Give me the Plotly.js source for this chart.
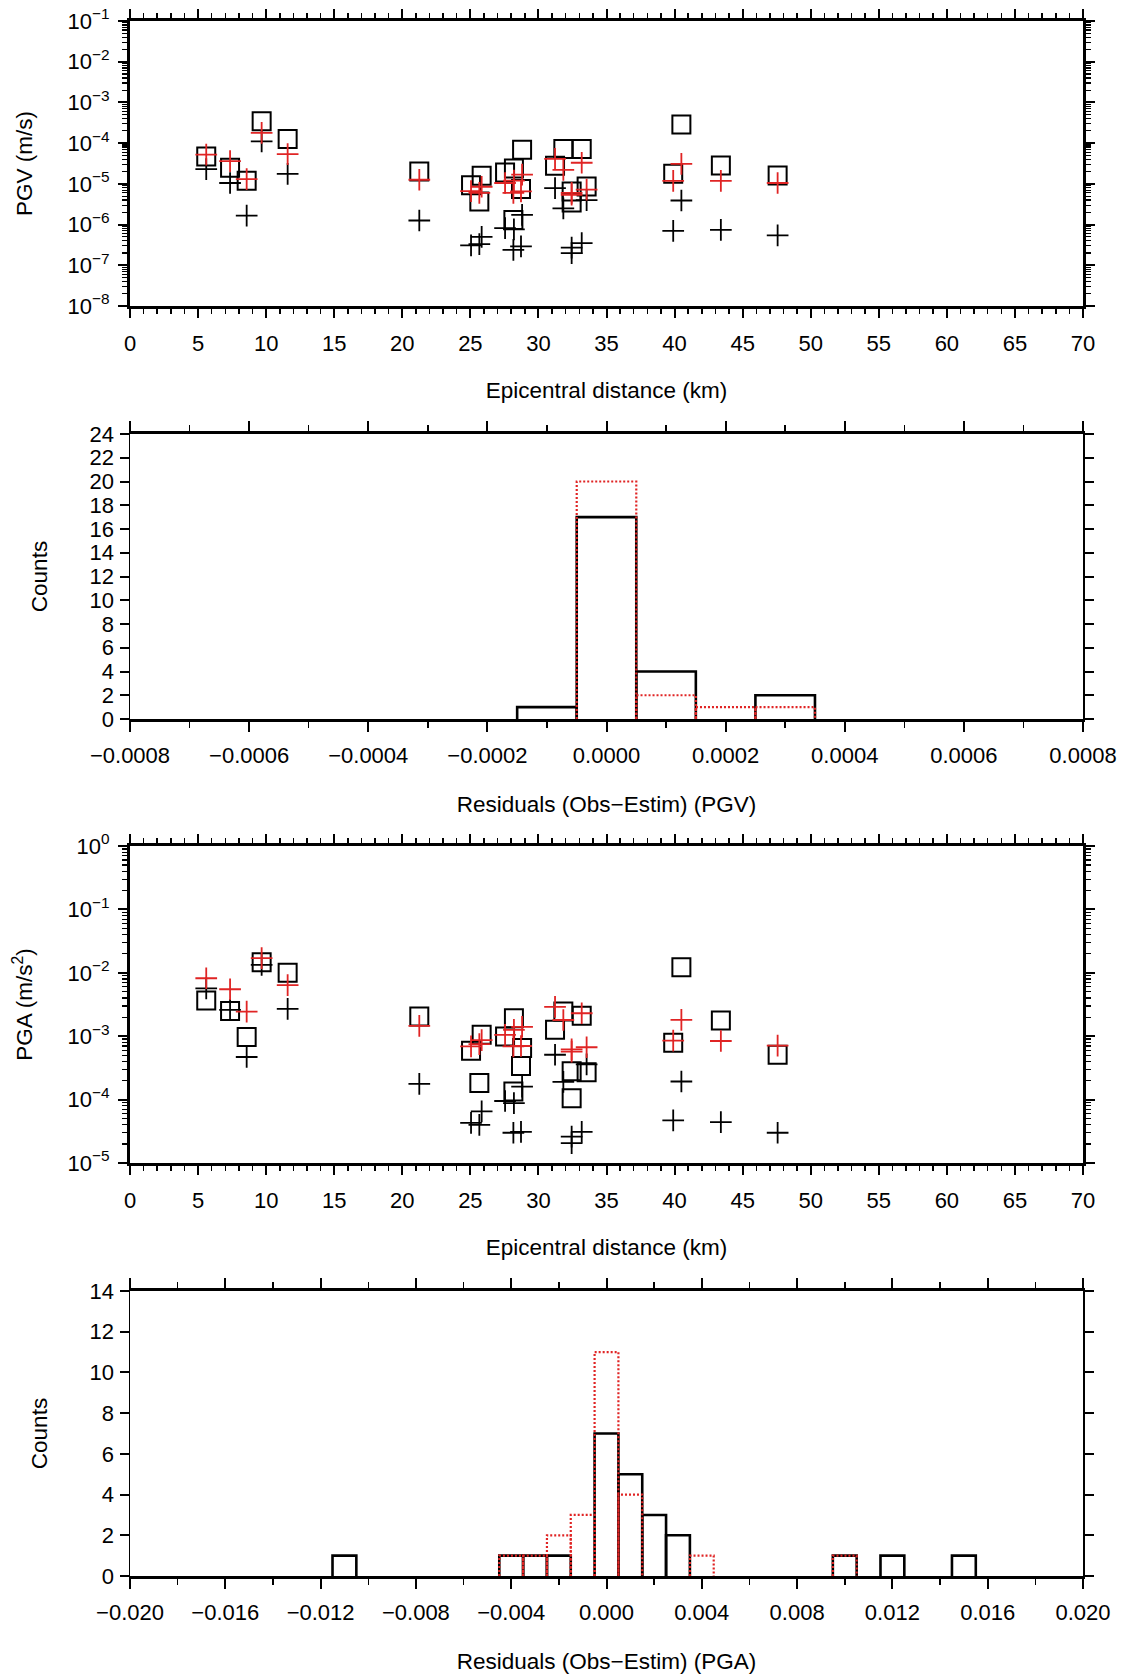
<!DOCTYPE html>
<html>
<head>
<meta charset="utf-8">
<script src="https://cdn.plot.ly/plotly-3.0.1.min.js"></script>
<style>html,body{margin:0;padding:0;background:#fff;}#chart{width:1126px;height:1674px;}</style>
</head>
<body>
<div id="chart"></div>
<script>
// ---------- data ----------
const distanceKm = [5.6, 7.35, 8.57, 9.67, 11.58, 21.25, 25.05, 25.83, 25.66, 27.55, 28.2, 28.8, 28.72, 28.16, 31.22, 31.83, 33.18, 32.44, 33.54, 32.44, 39.9, 40.5, 43.4, 47.57];

const pgvObserved = [4.7e-5, 2.5e-5, 1.2e-5, 3.45e-4, 1.27e-4, 2.0e-5, 9.2e-6, 1.58e-5, 3.7e-6, 1.91e-5, 2.4e-5, 6.9e-5, 7.5e-6, 1.3e-6, 2.8e-5, 7.2e-5, 7.2e-5, 6.5e-6, 8.6e-6, 3.5e-6, 1.78e-5, 2.86e-4, 2.84e-5, 1.61e-5];
const pgvEstimBlack = [2.3e-5, 1.05e-5, 1.65e-6, 1.1e-4, 1.75e-5, 1.26e-6, 3.1e-7, 5.0e-7, 3.3e-7, 8.2e-7, 7.6e-7, 1.74e-6, 2.9e-7, 2.4e-7, 7.9e-6, 2.5e-6, 3.5e-7, 2.7e-7, 4.0e-6, 2.0e-7, 7.0e-7, 3.9e-6, 7.4e-7, 5.4e-7];
const pgvEstimRed = [5.2e-5, 3.6e-5, 1.3e-5, 1.78e-4, 5.4e-5, 1.26e-5, 6.6e-6, 8.5e-6, 6.0e-6, 1.05e-5, 1.2e-5, 1.68e-5, 6.5e-6, 6.0e-6, 4.1e-5, 2.2e-5, 3.3e-5, 5.4e-6, 7.2e-6, 6.0e-6, 1.19e-5, 3.1e-5, 1.19e-5, 1.05e-5];

const pgaObserved = [3.65e-3, 2.5e-3, 9.7e-4, 1.47e-2, 1.0e-2, 2.04e-3, 5.9e-4, 1.05e-3, 1.82e-4, 9.9e-4, 1.92e-3, 6.5e-4, 3.4e-4, 1.34e-4, 1.26e-3, 2.45e-3, 2.1e-3, 2.8e-4, 2.7e-4, 1.05e-4, 7.9e-4, 1.22e-2, 1.77e-3, 5.1e-4];
const pgaEstimBlack = [5.7e-3, 2.6e-3, 4.7e-4, 1.33e-2, 2.7e-3, 1.77e-4, 4.3e-5, 6.5e-5, 4.0e-5, 9.5e-5, 8.8e-5, 1.6e-4, 3.1e-5, 3.0e-5, 5.1e-4, 1.9e-4, 3.1e-5, 2.6e-5, 3.6e-4, 2.06e-5, 4.7e-5, 1.93e-4, 4.4e-5, 3.0e-5];
const pgaEstimRed = [8.2e-3, 5.5e-3, 2.45e-3, 1.7e-2, 6.4e-3, 1.46e-3, 6.9e-4, 8.7e-4, 7.5e-4, 1.05e-3, 1.26e-3, 1.4e-3, 7.0e-4, 6.9e-4, 2.9e-3, 1.8e-3, 2.3e-3, 5.7e-4, 6.7e-4, 6.2e-4, 8.5e-4, 1.81e-3, 8.4e-4, 7.1e-4];

const pgvBinCenters = [-0.0001, 0.0, 0.0001, 0.0002, 0.0003];
const pgvCountsBlack = [1, 17, 4, 0, 2];
const pgvCountsRed = [0, 20, 2, 1, 1];
const pgvBinWidth = 0.0001;

const pgaBinCenters = [-0.011, -0.004, -0.003, -0.002, -0.001, 0.0, 0.001, 0.002, 0.003, 0.004, 0.010, 0.012, 0.015];
const pgaCountsBlack = [1, 1, 1, 1, 0, 7, 5, 3, 2, 0, 1, 1, 1];
const pgaCountsRed = [0, 1, 1, 2, 3, 11, 4, 0, 0, 1, 1, 0, 0];
const pgaBinWidth = 0.001;

const pgvTickVals = [1e-8, 1e-7, 1e-6, 1e-5, 1e-4, 1e-3, 1e-2, 1e-1];
const pgvTickText = ['10<sup>−8</sup>', '10<sup>−7</sup>', '10<sup>−6</sup>', '10<sup>−5</sup>', '10<sup>−4</sup>', '10<sup>−3</sup>', '10<sup>−2</sup>', '10<sup>−1</sup>'];
const pgaTickVals = [1e-5, 1e-4, 1e-3, 1e-2, 1e-1, 1];
const pgaTickText = ['10<sup>−5</sup>', '10<sup>−4</sup>', '10<sup>−3</sup>', '10<sup>−2</sup>', '10<sup>−1</sup>', '10<sup>0</sup>'];

// ---------- styling ----------
const FONT = 'Liberation Sans, Arial, Helvetica, sans-serif';
const RED = 'rgb(224,36,36)';
const W = 1126, H = 1674;
const xDom = [130 / W, 1083 / W];
function yDom(top, bottom) { return [1 - bottom / H, 1 - top / H]; }

function minorLog(lo, hi) {
  const v = [];
  for (let d = lo; d < hi; d++) for (let k = 2; k <= 9; k++) v.push(k * Math.pow(10, d));
  return v;
}

function outline(centers, counts, width) {
  const xs = [], ys = [];
  centers.forEach((c, i) => {
    if (counts[i] > 0) {
      const a = c - width / 2, b = c + width / 2;
      xs.push(a, a, b, b, null);
      ys.push(0, counts[i], counts[i], 0, null);
    }
  });
  return {x: xs, y: ys};
}

function sq(xa, ya, y) {
  return {type: 'scatter', mode: 'markers', x: distanceKm, y: y, xaxis: xa, yaxis: ya,
    marker: {symbol: 'square-open', size: 18, color: 'black', line: {width: 2, color: 'black'}}, hoverinfo: 'x+y'};
}
function plus(xa, ya, y, col) {
  return {type: 'scatter', mode: 'markers', x: distanceKm, y: y, xaxis: xa, yaxis: ya,
    marker: {symbol: 'cross-thin', size: 15.5, color: col, line: {width: 1.8, color: col}}, hoverinfo: 'x+y'};
}
function hist(xa, ya, centers, counts, w, col, dash, lw) {
  const o = outline(centers, counts, w);
  return {type: 'scatter', mode: 'lines', x: o.x, y: o.y, xaxis: xa, yaxis: ya, connectgaps: false,
    line: {color: col, width: lw, dash: dash}, hoverinfo: 'skip'};
}

const traces = [
  sq('x', 'y', pgvObserved), plus('x', 'y', pgvEstimBlack, 'black'), plus('x', 'y', pgvEstimRed, RED),
  hist('x2', 'y2', pgvBinCenters, pgvCountsBlack, pgvBinWidth, 'black', 'solid', 2.6),
  hist('x2', 'y2', pgvBinCenters, pgvCountsRed, pgvBinWidth, RED, '2px,2px', 2.2),
  sq('x3', 'y3', pgaObserved), plus('x3', 'y3', pgaEstimBlack, 'black'), plus('x3', 'y3', pgaEstimRed, RED),
  hist('x4', 'y4', pgaBinCenters, pgaCountsBlack, pgaBinWidth, 'black', 'solid', 2.6),
  hist('x4', 'y4', pgaBinCenters, pgaCountsRed, pgaBinWidth, RED, '2px,2px', 2.2)
];

const tickFont = {family: FONT, size: 22, color: 'black'};
const titleFont = {family: FONT, size: 22.5, color: 'black'};

function distAxis(anchor) {
  return {domain: xDom, anchor: anchor, range: [0, 70], tick0: 0, dtick: 5,
    showline: true, linewidth: 3, linecolor: 'black', mirror: 'allticks',
    ticks: 'outside', ticklen: 9, tickwidth: 2, tickcolor: 'black',
    minor: {ticks: 'outside', ticklen: 5, tickwidth: 1.5, tickcolor: 'black', dtick: 1, tick0: 0, showgrid: false},
    showgrid: false, zeroline: false, tickfont: tickFont, ticklabelstandoff: 7,
    title: {text: 'Epicentral distance (km)', font: titleFont, standoff: 27}};
}
function logAxis(anchor, dom, lo, hi, vals, text, title) {
  return {domain: dom, anchor: anchor, type: 'log', range: [lo, hi],
    tickmode: 'array', tickvals: vals, ticktext: text,
    showline: true, linewidth: 3, linecolor: 'black', mirror: 'allticks',
    ticks: 'outside', ticklen: 9, tickwidth: 2, tickcolor: 'black',
    minor: {ticks: 'outside', ticklen: 5, tickwidth: 1.2, tickcolor: 'black', tickmode: 'array', tickvals: minorLog(lo, hi), showgrid: false},
    showgrid: false, zeroline: false, tickfont: tickFont, ticklabelstandoff: 4,
    title: {text: title, font: titleFont, standoff: 29}};
}
function resAxis(anchor, range, dtick, minorDtick, fmt, title) {
  return {domain: xDom, anchor: anchor, range: range, tick0: 0, dtick: dtick, tickformat: fmt,
    showline: true, linewidth: 3, linecolor: 'black', mirror: 'allticks',
    ticks: 'outside', ticklen: 10, tickwidth: 2, tickcolor: 'black',
    minor: {ticks: 'outside', ticklen: 6, tickwidth: 1.5, tickcolor: 'black', dtick: minorDtick, tick0: 0, showgrid: false},
    showgrid: false, zeroline: false, tickfont: tickFont, ticklabelstandoff: 5,
    title: {text: title, font: titleFont, standoff: 29}};
}
function countAxis(anchor, dom, max) {
  return {domain: dom, anchor: anchor, range: [0, max], tick0: 0, dtick: 2,
    showline: true, linewidth: 1.5, linecolor: 'black', mirror: 'allticks',
    ticks: 'outside', ticklen: 9, tickwidth: 2, tickcolor: 'black',
    showgrid: false, zeroline: false, tickfont: tickFont, ticklabelstandoff: 1,
    title: {text: 'Counts', font: titleFont, standoff: 35}};
}

const layout = {
  width: W, height: H, margin: {l: 0, r: 0, t: 0, b: 0},
  paper_bgcolor: 'white', plot_bgcolor: 'white', showlegend: false,
  font: {family: FONT, color: 'black'},
  xaxis: distAxis('y'),
  yaxis: logAxis('x', yDom(21, 306), -8, -1, pgvTickVals, pgvTickText, 'PGV (m/s)'),
  xaxis2: resAxis('y2', [-0.0008, 0.0008], 0.0002, 0.0001, '.4f', 'Residuals (Obs−Estim) (PGV)'),
  yaxis2: countAxis('x2', yDom(434, 719), 24),
  xaxis3: distAxis('y3'),
  yaxis3: logAxis('x3', yDom(846, 1163), -5, 0, pgaTickVals, pgaTickText, 'PGA (m/s<sup>2</sup>)'),
  xaxis4: resAxis('y4', [-0.02, 0.02], 0.004, 0.002, '.3f', 'Residuals (Obs−Estim) (PGA)'),
  yaxis4: countAxis('x4', yDom(1291, 1576), 14)
};

Plotly.newPlot('chart', traces, layout, {displayModeBar: false, staticPlot: true});
</script>
</body>
</html>
